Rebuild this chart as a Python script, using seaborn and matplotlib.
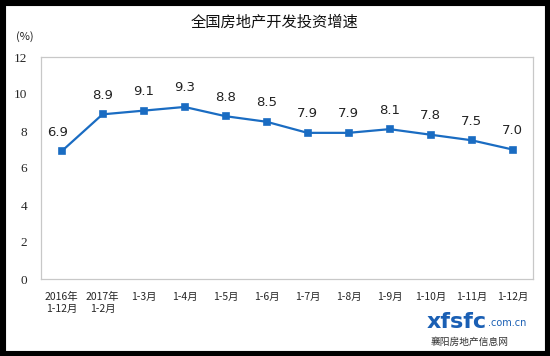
import matplotlib
matplotlib.use("Agg")
import matplotlib.pyplot as plt
import seaborn as sns
import numpy as np
from matplotlib.patches import Rectangle

categories = ["2016年\n1-12月", "2017年\n1-2月", "1-3月", "1-4月", "1-5月", "1-6月",
              "1-7月", "1-8月", "1-9月", "1-10月", "1-11月", "1-12月"]
values = [6.9, 8.9, 9.1, 9.3, 8.8, 8.5, 7.9, 7.9, 8.1, 7.8, 7.5, 7.0]
yticks = [0, 2, 4, 6, 8, 10, 12]

sns.set_theme(style="white")
plt.rcParams['font.family'] = ['Noto Sans CJK SC', 'DejaVu Sans']

fig = plt.figure(figsize=(5.5, 3.56), dpi=100)
ax = fig.add_axes([41/550, 1-279/356, (533-41)/550, (279-57)/356])

color = "#1a6cc2"
sns.pointplot(x=categories, y=values, ax=ax, color=color, markers="s",
              linewidth=1.6, markersize=4.5)

ax.set_ylim(0, 12)
ax.set_xlim(-0.5, len(categories)-0.5)
ax.set_yticks(yticks)
ax.set_yticklabels([str(t) for t in yticks], fontsize=9.5, family=['Liberation Serif'])
ax.tick_params(axis='y', length=0, pad=10)
ax.set_xticks(np.arange(len(categories)))
ax.set_xticklabels(categories, fontsize=7.5, ha='center', linespacing=1.3)
ax.tick_params(axis='x', length=0, pad=9)
# boundary ticks
ax.set_xticks(np.arange(len(categories)+1) - 0.5, minor=True)
ax.tick_params(axis='x', which='minor', length=4, direction='in', color='#bbbbbb', width=0.8)
ax.set_xlabel("")
ax.set_ylabel("")
for s in ax.spines.values():
    s.set_color('#c8c8c8')
    s.set_linewidth(0.9)

for i, v in enumerate(values):
    ax.annotate(f"{v:.1f}", (i, v), xytext=(-3 if i == 0 else 0, 9), textcoords='offset points',
                ha='center', va='bottom', fontsize=9.5, color='#222222',
                family=['DejaVu Sans'])

fig.text(0.5, 1-22/356, "全国房地产开发投资增速", ha='center', va='center', fontsize=11, color='#111111')
fig.text(25/550, 1-37/356, "(%)", ha='center', va='center', fontsize=8, color='#222222')

# watermark text
fig.text(487/550, 1-322/356, "xfsfc", ha='right', va='center', fontsize=16, color='#1a5fb4', fontweight='bold', family=['DejaVu Sans'])
fig.text(488/550, 1-323/356, ".com.cn", ha='left', va='center', fontsize=7, color='#1a5fb4', family=['DejaVu Sans'])
fig.text(470/550, 1-342/356, "襄阳房地产信息网", ha='center', va='center', fontsize=7, color='#333333')

# black frame
fig.patches.append(Rectangle((0, 0), 1, 1, transform=fig.transFigure, fill=False,
                             edgecolor='black', linewidth=8, zorder=10))

fig.savefig("out.png", dpi=100, facecolor='white')
